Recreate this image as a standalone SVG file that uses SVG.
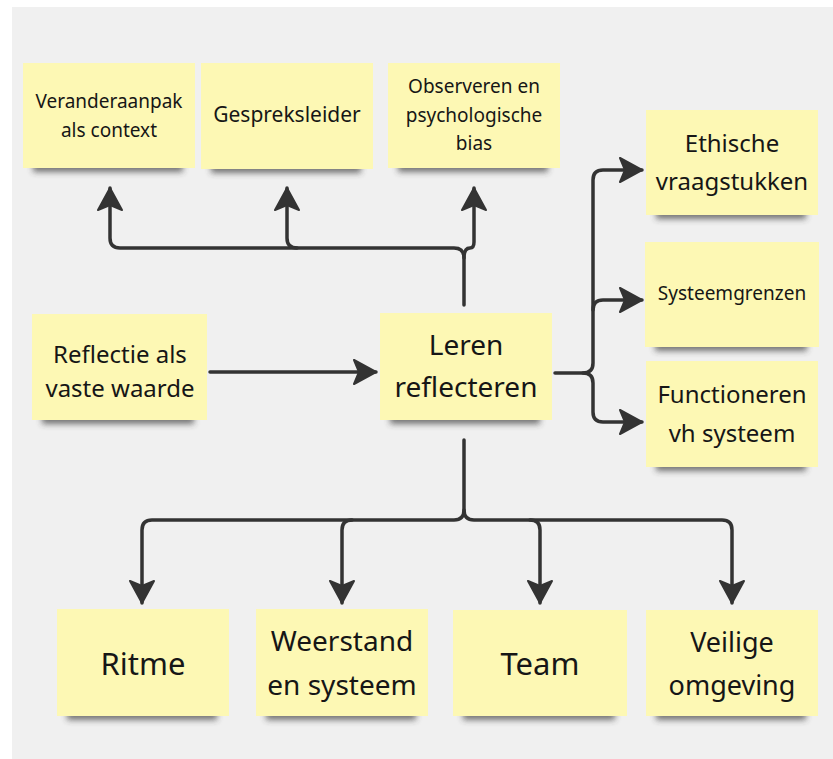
<svg xmlns="http://www.w3.org/2000/svg" width="833" height="759" viewBox="0 0 833 759">
<defs>
<style>
.note{fill:#fdf8b4}
.sh{fill:#333;opacity:.65;filter:url(#blur)}
.t{font-family:"Noto Sans","Open Sans",sans-serif;fill:#161616;text-anchor:middle}
.c{fill:none;stroke:#333;stroke-width:3.5;stroke-linecap:round;stroke-linejoin:round}
</style>
<filter id="blur" x="-20%" y="-100%" width="140%" height="300%"><feGaussianBlur stdDeviation="3"/></filter>
<marker id="ah" markerUnits="userSpaceOnUse" markerWidth="26" markerHeight="28" viewBox="0 0 26 28" refX="24" refY="14" orient="auto">
<path d="M2,2 L24,14 L2,26 L7,14 Z" fill="#333" stroke="#333" stroke-width="2" stroke-linejoin="round"/>
</marker>
</defs>
<rect x="0" y="0" width="833" height="759" fill="#ffffff"/>
<rect x="12" y="7" width="821" height="752" fill="#f0f0f0"/>

<g id="connectors">
<path class="c" d="M464,305 V258 Q464,248 454,248 H120 Q110,248 110,238 V188" marker-end="url(#ah)"/>
<path class="c" d="M297,248 Q287,248 287,238 V188" marker-end="url(#ah)"/>
<path class="c" d="M464,258 Q464,248 470,248 Q474,248 474,242 V188" marker-end="url(#ah)"/>
<path class="c" d="M555,373 H583 Q593,373 593,363 V180 Q593,170 603,170 H642" marker-end="url(#ah)"/>
<path class="c" d="M593,310 Q593,300 603,300 H642" marker-end="url(#ah)"/>
<path class="c" d="M583,373 Q593,373 593,383 V412 Q593,422 603,422 H642" marker-end="url(#ah)"/>
<path class="c" d="M210,372 H376" marker-end="url(#ah)"/>
<path class="c" d="M464,440 V510 Q464,520 454,520 H152 Q142,520 142,530 V603" marker-end="url(#ah)"/>
<path class="c" d="M352,520 Q342,520 342,530 V603" marker-end="url(#ah)"/>
<path class="c" d="M464,510 Q464,520 474,520 H722 Q732,520 732,530 V603" marker-end="url(#ah)"/>
<path class="c" d="M530,520 Q540,520 540,530 V603" marker-end="url(#ah)"/>
</g>

<g id="n-veranderaanpak">
<rect class="sh" x="33" y="158" width="150" height="14"/>
<rect class="note" x="23" y="63" width="172" height="105"/>
<text class="t" font-size="19"><tspan x="109" y="108">Veranderaanpak</tspan><tspan x="109" y="137">als context</tspan></text>
</g>
<g id="n-gespreksleider">
<rect class="sh" x="211" y="159" width="150" height="14"/>
<rect class="note" x="201" y="63" width="172" height="106"/>
<text class="t" font-size="21" x="287" y="122">Gespreksleider</text>
</g>
<g id="n-observeren">
<rect class="sh" x="398" y="158" width="150" height="14"/>
<rect class="note" x="388" y="63" width="172" height="105"/>
<text class="t" font-size="19"><tspan x="474" y="93">Observeren en</tspan><tspan x="474" y="122">psychologische</tspan><tspan x="474" y="150">bias</tspan></text>
</g>
<g id="n-ethische">
<rect class="sh" x="656" y="205" width="150" height="14"/>
<rect class="note" x="646" y="110" width="172" height="105"/>
<text class="t" font-size="24"><tspan x="732" y="152">Ethische</tspan><tspan x="732" y="190">vraagstukken</tspan></text>
</g>
<g id="n-systeemgrenzen">
<rect class="sh" x="655" y="337" width="152" height="14"/>
<rect class="note" x="645" y="242" width="174" height="105"/>
<text class="t" font-size="19" x="732" y="300">Systeemgrenzen</text>
</g>
<g id="n-functioneren">
<rect class="sh" x="656" y="457" width="150" height="14"/>
<rect class="note" x="646" y="361" width="172" height="106"/>
<text class="t" font-size="24"><tspan x="732" y="403">Functioneren</tspan><tspan x="732" y="442">vh systeem</tspan></text>
</g>
<g id="n-leren">
<rect class="sh" x="390" y="410" width="150" height="14"/>
<rect class="note" x="380" y="313" width="172" height="107"/>
<text class="t" font-size="28"><tspan x="466" y="355">Leren</tspan><tspan x="466" y="397">reflecteren</tspan></text>
</g>
<g id="n-reflectie">
<rect class="sh" x="42" y="410" width="152" height="14"/>
<rect class="note" x="32" y="314" width="175" height="106"/>
<text class="t" font-size="24"><tspan x="120" y="363">Reflectie als</tspan><tspan x="120" y="397">vaste waarde</tspan></text>
</g>
<g id="n-ritme">
<rect class="sh" x="67" y="706" width="150" height="14"/>
<rect class="note" x="57" y="609" width="172" height="107"/>
<text class="t" font-size="31" x="143" y="675">Ritme</text>
</g>
<g id="n-weerstand">
<rect class="sh" x="266" y="706" width="150" height="14"/>
<rect class="note" x="256" y="609" width="172" height="107"/>
<text class="t" font-size="28"><tspan x="342" y="651">Weerstand</tspan><tspan x="342" y="695">en systeem</tspan></text>
</g>
<g id="n-team">
<rect class="sh" x="463" y="706" width="152" height="14"/>
<rect class="note" x="453" y="610" width="174" height="106"/>
<text class="t" font-size="31" x="540" y="675">Team</text>
</g>
<g id="n-veilige">
<rect class="sh" x="656" y="706" width="150" height="14"/>
<rect class="note" x="646" y="610" width="172" height="106"/>
<text class="t" font-size="27"><tspan x="732" y="652">Veilige</tspan><tspan x="732" y="695">omgeving</tspan></text>
</g>
</svg>
